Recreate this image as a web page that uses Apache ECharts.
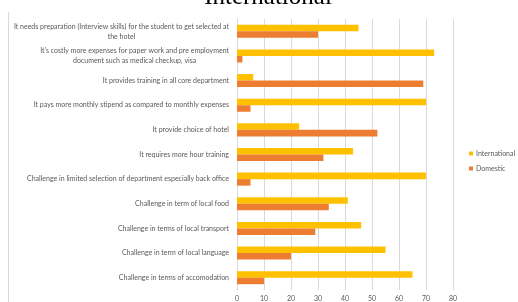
<!DOCTYPE html>
<html><head><meta charset="utf-8">
<script src="https://cdn.jsdelivr.net/npm/echarts@6/dist/echarts.min.js"></script>
<style>html,body{margin:0;padding:0;background:#fff}#c{width:518px;height:302px}</style>
</head><body><div id="c"></div>
<script>
const categories = [
  "It needs preparation (Interview skills) for the student to get selected at\nthe hotel",
  "It's costly more expenses for paper work and pre employment\ndocument such as medical checkup, visa",
  "It provides training in all core department",
  "It pays more monthly stipend as compared to monthly expenses",
  "It provide choice of hotel",
  "It requires more hour training",
  "Challenge in limited selection of department especially back office",
  "Challenge in term of local food",
  "Challenge in terms of local transport",
  "Challenge in term of local language",
  "Challenge in terms of accomodation"
];
const international = [45, 73, 6, 70, 23, 43, 70, 41, 46, 55, 65];
const domestic = [30, 2, 69, 5, 52, 32, 5, 34, 29, 20, 10];
const xTicks = [0, 10, 20, 30, 40, 50, 60, 70, 80];
const titleText = "International";

const FONT = 'Lato, "Open Sans", sans-serif';
const chart = echarts.init(document.getElementById('c'), null, {renderer: 'canvas'});
chart.setOption({
  animation: false,
  backgroundColor: '#fff',
  graphic: [
    {type: 'text', x: 268, y: 10, z: 10, style: {text: titleText, align: 'center', verticalAlign: 'bottom', font: '25px "Liberation Serif", "DejaVu Serif", serif', fill: '#000'}},
    {type: 'line', shape: {x1: 8.5, y1: 12, x2: 8.5, y2: 302}, style: {stroke: '#d9d9d9', lineWidth: 1}}
  ],
  grid: {left: 237, right: 65, top: 19, bottom: 12, containLabel: false},
  legend: {
    orient: 'vertical', left: 469, top: 150, padding: 0,
    itemWidth: 4, itemHeight: 4, itemGap: 8,
    icon: 'rect',
    textStyle: {fontFamily: FONT, fontSize: 7, color: '#595959', padding: [0, 0, 0, -2]},
    data: ['International', 'Domestic']
  },
  xAxis: {
    type: 'value', min: xTicks[0], max: xTicks[xTicks.length - 1], interval: 10,
    axisLine: {show: false}, axisTick: {show: false},
    splitLine: {lineStyle: {color: '#d9d9d9', width: 1}},
    axisLabel: {fontFamily: FONT, fontSize: 7, color: '#595959', margin: 5}
  },
  yAxis: {
    type: 'category', inverse: true, data: categories,
    axisLine: {show: true, lineStyle: {color: '#d9d9d9'}},
    axisTick: {show: false},
    axisLabel: {
      margin: 8, fontFamily: FONT, fontSize: 7, color: '#595959', lineHeight: 10,
      formatter: v => v.split('\n').map(s => '{c|' + s + '}').join('\n'),
      rich: {c: {align: 'center', fontFamily: FONT, fontSize: 7, color: '#595959', lineHeight: 10}}
    }
  },
  series: [
    {name: 'International', type: 'bar', data: international, itemStyle: {color: '#FFC000'}, barGap: '0%', barCategoryGap: '47%'},
    {name: 'Domestic', type: 'bar', data: domestic, itemStyle: {color: '#ED7D31'}, barGap: '0%', barCategoryGap: '47%'}
  ]
});
</script></body></html>
